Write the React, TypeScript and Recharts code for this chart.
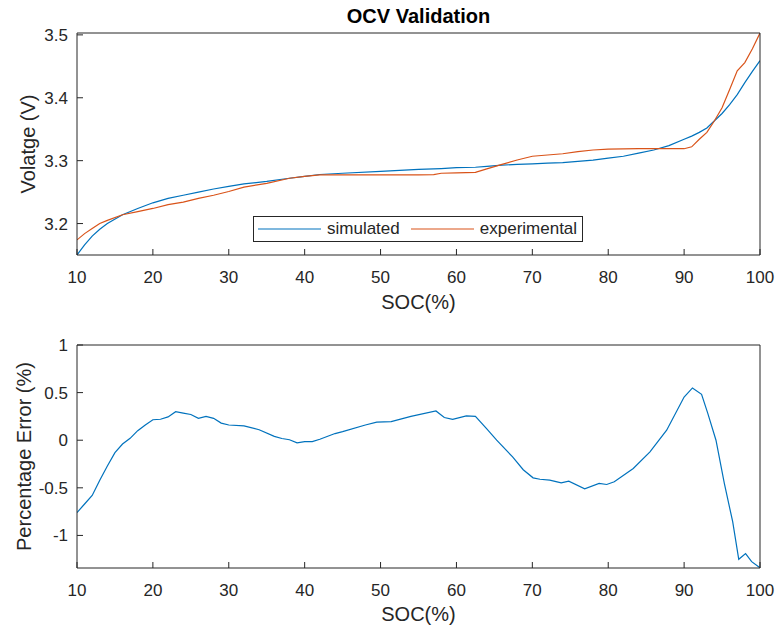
import React from 'react';
import { LineChart, Line, XAxis, YAxis, Legend } from 'recharts';

// OCV curves (SOC in %, voltage in V)
const socTop = [10, 11, 12, 13, 14, 16, 18, 20, 22, 24, 26, 28, 30, 32, 35, 38, 40, 42, 45, 50, 55, 57, 58, 60, 62.5, 64, 66, 68, 70, 72, 74, 76, 78, 80, 82, 84, 86, 88, 90, 91, 92, 93, 94, 95, 96, 97, 98, 99, 100];
const simulated = [3.150, 3.166, 3.180, 3.191, 3.200, 3.214, 3.224, 3.233, 3.240, 3.245, 3.250, 3.255, 3.259, 3.263, 3.267, 3.272, 3.275, 3.278, 3.280, 3.283, 3.286, 3.287, 3.2875, 3.289, 3.2895, 3.291, 3.293, 3.294, 3.295, 3.296, 3.297, 3.299, 3.301, 3.304, 3.307, 3.312, 3.317, 3.324, 3.334, 3.339, 3.345, 3.352, 3.3635, 3.375, 3.389, 3.405, 3.424, 3.442, 3.459];
const experimental = [3.174, 3.184, 3.192, 3.200, 3.205, 3.214, 3.219, 3.224, 3.230, 3.234, 3.240, 3.245, 3.251, 3.258, 3.264, 3.272, 3.275, 3.2775, 3.2775, 3.2775, 3.2775, 3.2778, 3.280, 3.2805, 3.2815, 3.287, 3.294, 3.301, 3.307, 3.309, 3.311, 3.3145, 3.317, 3.3185, 3.3188, 3.319, 3.319, 3.319, 3.319, 3.322, 3.334, 3.345, 3.3635, 3.384, 3.413, 3.443, 3.456, 3.478, 3.503];

// percentage error
const socErr = [10, 11, 12, 13, 14, 15, 16, 17, 18, 19, 20, 21, 22, 23, 24, 25, 26, 27, 28, 29, 30, 32, 34, 36, 37, 38, 39, 40, 41, 42, 44, 45, 48, 49.5, 51.4, 54, 57.3, 58.4, 59.5, 61.3, 62.5, 64, 65.3, 67.4, 68.8, 70.1, 71, 72.3, 73.8, 74.8, 76.9, 78.8, 79.8, 80.8, 83.3, 85.5, 87.7, 90, 91.1, 92.3, 93.1, 94.2, 95.3, 96.4, 97.2, 98.1, 98.9, 100];
const pctError = [-0.76, -0.67, -0.58, -0.42, -0.27, -0.13, -0.04, 0.02, 0.1, 0.16, 0.215, 0.22, 0.245, 0.3, 0.285, 0.27, 0.23, 0.25, 0.23, 0.18, 0.16, 0.15, 0.11, 0.04, 0.018, 0.005, -0.028, -0.015, -0.015, 0.01, 0.07, 0.09, 0.16, 0.19, 0.195, 0.25, 0.307, 0.238, 0.22, 0.255, 0.25, 0.12, 0.0, -0.175, -0.31, -0.395, -0.41, -0.419, -0.447, -0.43, -0.51, -0.454, -0.465, -0.437, -0.297, -0.122, 0.105, 0.454, 0.549, 0.482, 0.287, 0.0, -0.454, -0.856, -1.25, -1.19, -1.275, -1.34];

const socTicks = [10, 20, 30, 40, 50, 60, 70, 80, 90, 100];
const voltTicks = [3.2, 3.3, 3.4, 3.5];
const errTicks = [-1, -0.5, 0, 0.5, 1];
const legendOrder = ['simulated', 'experimental'];

const topData = socTop.map((soc, i) => ({ soc, simulated: simulated[i], experimental: experimental[i] }));
const errData = socErr.map((soc, i) => ({ soc, error: pctError[i] }));

const FONT = '"Liberation Sans", Arial, Helvetica, sans-serif';
const AXIS = '#262626';
const BLUE = '#0072BD';
const ORANGE = '#D95319';
const tickStyle = { fontSize: 17, fill: AXIS, fontFamily: FONT };
const labelStyle = { fontSize: 20, fill: AXIS, fontFamily: FONT, textAnchor: 'middle' as const };

const renderLegend = (props: any) => {
  const items = (props.payload || [])
    .filter((it: any) => legendOrder.includes(it.value))
    .sort((a: any, b: any) => legendOrder.indexOf(a.value) - legendOrder.indexOf(b.value));
  return (
    <div
      style={{
        display: 'flex',
        alignItems: 'center',
        width: 330,
        height: 26,
        boxSizing: 'border-box',
        border: '1px solid #262626',
        background: '#fff',
        paddingLeft: 4,
        fontFamily: FONT,
        fontSize: 17,
        color: AXIS,
      }}
    >
      {items.map((it: any, i: number) => (
        <div key={i} style={{ display: 'flex', alignItems: 'center', marginRight: 11 }}>
          <svg width={63} height={4} style={{ marginRight: 6 }}>
            <line x1={0} y1={2} x2={63} y2={2} stroke={it.color} strokeWidth={1.2} />
          </svg>
          <span>{it.value}</span>
        </div>
      ))}
    </div>
  );
};

// box: top/right axes with inward ticks (an invisible line keeps them alive)
const boxAxes = (yDomain: number[], yTicks: number[], key: string) => [
  <XAxis key="xt" xAxisId="t" orientation="top" dataKey="soc" type="number" domain={[10, 100]} ticks={socTicks} tick={false} tickSize={-6} height={1} stroke={AXIS} allowDataOverflow />,
  <YAxis key="yr" yAxisId="r" orientation="right" type="number" domain={yDomain} ticks={yTicks} tick={false} tickSize={-6} width={1} stroke={AXIS} allowDataOverflow />,
  <Line key="ghost" xAxisId="t" yAxisId="r" dataKey={key} name="_box" stroke="none" dot={false} activeDot={false} legendType="none" isAnimationActive={false} />,
];

const App = () => {
  return (
    <div style={{ position: 'absolute', left: 0, top: 0, width: 779, height: 632, background: '#fff', overflow: 'hidden' }}>
      <div
        style={{
          position: 'absolute',
          left: 77,
          width: 683,
          top: 6,
          textAlign: 'center',
          fontFamily: FONT,
          fontWeight: 'bold',
          fontSize: 20,
          lineHeight: '20px',
          color: '#000',
        }}
      >
        OCV Validation
      </div>

      <div style={{ position: 'absolute', left: 0, top: 0 }}>
        <LineChart width={779} height={320} data={topData} margin={{ top: 32, right: 18, bottom: 0, left: 0 }}>
          <XAxis
            xAxisId="b"
            dataKey="soc"
            type="number"
            domain={[10, 100]}
            ticks={socTicks}
            tickSize={-6}
            tickMargin={22}
            height={65}
            stroke={AXIS}
            tick={tickStyle}
            allowDataOverflow
            label={{ value: 'SOC(%)', position: 'insideBottom', offset: 11, style: labelStyle }}
          />
          <YAxis
            yAxisId="l"
            type="number"
            domain={[3.15, 3.503]}
            ticks={voltTicks}
            tickSize={-6}
            tickMargin={15}
            width={77}
            stroke={AXIS}
            tick={tickStyle}
            allowDataOverflow
            label={{ value: 'Volatge (V)', angle: -90, position: 'insideLeft', offset: 28, style: labelStyle }}
          />
          {boxAxes([3.15, 3.503], voltTicks, 'simulated')}
          <Line xAxisId="b" yAxisId="l" type="linear" dataKey="simulated" name="simulated" stroke={BLUE} strokeWidth={1.2} dot={false} isAnimationActive={false} />
          <Line xAxisId="b" yAxisId="l" type="linear" dataKey="experimental" name="experimental" stroke={ORANGE} strokeWidth={1.2} dot={false} isAnimationActive={false} />
          <Legend
            layout="horizontal"
            verticalAlign="middle"
            align="center"
            content={renderLegend}
            wrapperStyle={{ left: 253, top: 216, width: 330, height: 26 }}
          />
        </LineChart>
      </div>

      <div style={{ position: 'absolute', left: 0, top: 320 }}>
        <LineChart width={779} height={312} data={errData} margin={{ top: 24, right: 18, bottom: 0, left: 0 }}>
          <XAxis
            xAxisId="b"
            dataKey="soc"
            type="number"
            domain={[10, 100]}
            ticks={socTicks}
            tickSize={-6}
            tickMargin={22}
            height={64}
            stroke={AXIS}
            tick={tickStyle}
            allowDataOverflow
            label={{ value: 'SOC(%)', position: 'insideBottom', offset: 11, style: labelStyle }}
          />
          <YAxis
            yAxisId="l"
            type="number"
            domain={[-1.342, 1]}
            ticks={errTicks}
            tickSize={-6}
            tickMargin={15}
            width={77}
            stroke={AXIS}
            tick={tickStyle}
            allowDataOverflow
            label={{ value: 'Percentage Error (%)', angle: -90, position: 'insideLeft', offset: 24, style: labelStyle }}
          />
          {boxAxes([-1.342, 1], errTicks, 'error')}
          <Line xAxisId="b" yAxisId="l" type="linear" dataKey="error" stroke={BLUE} strokeWidth={1.2} dot={false} isAnimationActive={false} />
        </LineChart>
      </div>
    </div>
  );
};

export default App;
